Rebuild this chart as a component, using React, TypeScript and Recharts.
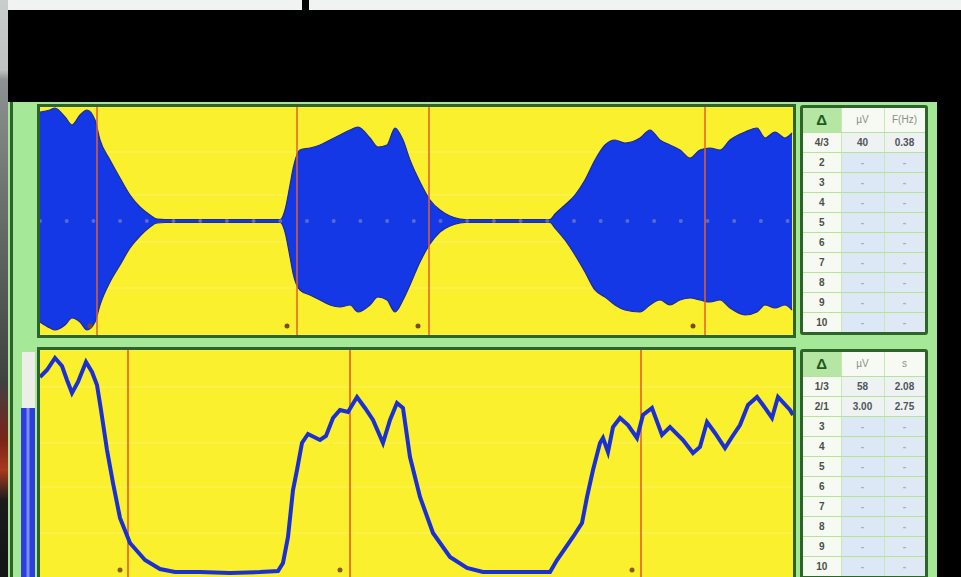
import {
  Area,
  CartesianGrid,
  ComposedChart,
  Line,
  ReferenceDot,
  ReferenceLine,
  XAxis,
  YAxis,
} from 'recharts'

// raw EMG trace: sample index vs envelope (µV)
const topTime = [
  0, 10, 15, 25, 32, 40, 47, 55, 60, 70, 80, 90, 100, 110, 117, 125, 240, 242, 245, 250, 253, 260,
  270, 280, 290, 300, 310, 318, 330, 338, 347, 355, 363, 370, 380, 390, 400, 410, 420, 425, 510, 515,
  525, 535, 545, 555, 565, 575, 585, 600, 610, 620, 630, 640, 650, 660, 670, 680, 690, 705, 717, 725,
  735, 745, 752,
]
const topUpper = [
  109, 111, 113, 104, 96, 106, 111, 101, 81, 61, 43, 26, 14, 6, 2, 1.5, 1.5, 3, 11, 36, 52, 71, 73, 76,
  81, 86, 91, 94, 83, 74, 76, 93, 81, 61, 39, 21, 11, 5, 2, 1.5, 1.5, 7, 16, 26, 41, 61, 76, 81, 78, 83,
  91, 81, 76, 71, 63, 71, 73, 71, 81, 89, 93, 83, 89, 83, 88,
]
const topLower = [
  -101, -107, -109, -104, -97, -101, -109, -101, -84, -61, -44, -27, -15, -6, -2, -1.5, -1.5, -3, -11,
  -36, -52, -69, -74, -79, -84, -86, -84, -91, -84, -76, -79, -91, -79, -64, -41, -23, -11, -5, -2,
  -1.5, -1.5, -7, -19, -34, -51, -69, -76, -84, -89, -91, -84, -79, -84, -79, -77, -79, -81, -79, -87,
  -94, -91, -84, -87, -84, -89,
]
const topGridTicks = [69, 26, -21, -67]
const topCursors = [57, 257, 389, 665]
const topMarks = [50, 247, 378, 653]

// rectified / smoothed trace
const lowTime = [
  0, 7, 15, 22, 27, 32, 38, 46, 52, 57, 61, 67, 73, 80, 90, 105, 120, 135, 160, 190, 220, 238, 243,
  248, 253, 257, 262, 268, 274, 280, 286, 293, 300, 308, 317, 325, 333, 343, 350, 357, 363, 370, 380,
  393, 410, 427, 443, 480, 510, 517, 533, 542, 547, 553, 560, 563, 568, 573, 580, 588, 597, 603, 612,
  622, 630, 643, 653, 660, 667, 675, 685, 692, 700, 708, 717, 723, 732, 738, 750, 753,
]
const lowValue = [
  198, 205, 217, 209, 195, 182, 193, 213, 203, 190, 165, 125, 92, 57, 32, 15, 6, 3, 3, 2, 3, 4, 12, 38,
  85, 105, 132, 141, 138, 135, 139, 157, 165, 163, 178, 167, 155, 132, 155, 172, 167, 118, 78, 42, 18,
  7, 3, 3, 3, 15, 38, 52, 78, 105, 132, 137, 123, 148, 157, 150, 137, 160, 167, 140, 148, 135, 122, 128,
  153, 142, 127, 138, 150, 170, 178, 170, 157, 178, 165, 160,
]
const lowGridTicks = [188, 132, 88, 42]
const lowCursors = [88, 310, 601]
const lowMarks = [80, 300, 592]

// cursor tables
const topHeader = ['Δ', 'µV', 'F(Hz)']
const topMeasured = [['4/3', '40', '0.38']]
const lowHeader = ['Δ', 'µV', 's']
const lowMeasured = [
  ['1/3', '58', '2.08'],
  ['2/1', '3.00', '2.75'],
]
const rowLabels = ['1', '2', '3', '4', '5', '6', '7', '8', '9', '10']

const topData = topTime.map((t, i) => ({ t, band: [topLower[i], topUpper[i]] }))
const lowData = lowTime.map((t, i) => ({ t, value: lowValue[i] }))

const YELLOW = '#fbf02e'
const LIGHT_GREEN = '#a4e898'
const DARK_GREEN = '#2d6429'
const CURSOR = '#e2602a'

function CursorTable({ header, measured, top }: { header: string[]; measured: string[][]; top: number }) {
  const rows = [
    ...measured,
    ...rowLabels.slice(measured.length).map((r) => [r, '-', '-']),
  ]
  const cell: React.CSSProperties = {
    borderRight: '1px solid #c6e9b6',
    borderBottom: '1px solid #b6e39c',
    textAlign: 'center',
    padding: 0,
  }
  return (
    <div
      style={{
        position: 'absolute',
        left: 800,
        top,
        width: 122,
        height: 224,
        border: `3px solid ${DARK_GREEN}`,
        borderRadius: 3,
        background: '#f6faf2',
        overflow: 'hidden',
      }}
    >
      <table
        style={{
          borderCollapse: 'collapse',
          width: '100%',
          tableLayout: 'fixed',
          fontFamily: '"Liberation Sans", Arial, sans-serif',
          fontSize: 10,
          fontWeight: 'bold',
        }}
      >
        <colgroup>
          <col style={{ width: 38 }} />
          <col style={{ width: 43 }} />
          <col style={{ width: 41 }} />
        </colgroup>
        <tbody>
          <tr style={{ height: 24 }}>
            <td style={{ ...cell, background: '#b5e6a3', color: '#1f5a1c', fontSize: 15 }}>{header[0]}</td>
            <td style={{ ...cell, color: '#8a8f88', fontWeight: 'normal' }}>{header[1]}</td>
            <td style={{ ...cell, color: '#8a8f88', fontWeight: 'normal' }}>{header[2]}</td>
          </tr>
          {rows.map((row, i) => {
            const done = i < measured.length
            return (
              <tr key={row[0]} style={{ height: 20 }}>
                <td style={{ ...cell, color: '#4a4f4a' }}>{row[0]}</td>
                <td style={{ ...cell, color: done ? '#50555a' : '#a3aab8', background: done ? '#eef2f2' : '#dce8f6' }}>
                  {row[1]}
                </td>
                <td style={{ ...cell, color: done ? '#50555a' : '#a3aab8', background: done ? '#eef2f2' : '#dfe9f6' }}>
                  {row[2]}
                </td>
              </tr>
            )
          })}
        </tbody>
      </table>
    </div>
  )
}

function PlotFrame({ top, height, children }: { top: number; height: number; children: React.ReactNode }) {
  return (
    <div
      style={{
        position: 'absolute',
        left: 37,
        top,
        width: 753,
        height,
        border: `3px solid ${DARK_GREEN}`,
        background: YELLOW,
        overflow: 'hidden',
      }}
    >
      {children}
    </div>
  )
}

export default function App() {
  return (
    <div
      style={{
        position: 'fixed',
        left: 0,
        top: 0,
        width: 961,
        height: 577,
        overflow: 'hidden',
        background: '#000',
      }}
    >
      {/* photo surroundings */}
      <div style={{ position: 'absolute', left: 7, top: 0, width: 954, height: 10, background: '#f1f2f2' }} />
      <div style={{ position: 'absolute', left: 302, top: 0, width: 7, height: 11, background: '#050505' }} />
      <div
        style={{
          position: 'absolute',
          left: 0,
          top: 0,
          width: 8,
          height: 577,
          background:
            'linear-gradient(#c9cdcc 0px, #bfc3c2 70px, #8d9191 80px, #6b7070 200px, #3e4243 380px, #7a2418 440px, #a83a1e 470px, #1c1c1c 500px, #141414 577px)',
        }}
      />
      {/* instrument window */}
      <div style={{ position: 'absolute', left: 8, top: 102, width: 929, height: 475, background: LIGHT_GREEN }} />
      <div style={{ position: 'absolute', left: 10, top: 102, width: 3, height: 475, background: DARK_GREEN }} />
      <div style={{ position: 'absolute', left: 22, top: 352, width: 13, height: 56, background: '#eeeee8' }} />
      <div
        style={{
          position: 'absolute',
          left: 21,
          top: 408,
          width: 14,
          height: 169,
          background: 'linear-gradient(90deg, #2c3fd8 0px, #2c3fd8 5px, #7c8cf2 6px, #7c8cf2 8px, #2c3fd8 9px)',
        }}
      />

      <PlotFrame top={104} height={228}>
        <ComposedChart width={753} height={228} data={topData} margin={{ top: 0, right: 0, bottom: 0, left: 0 }}>
          <CartesianGrid vertical={false} stroke="#fdf47a" strokeOpacity={0.7} strokeWidth={1} />
          <XAxis type="number" dataKey="t" domain={[0, 753]} hide />
          <YAxis type="number" domain={[-114, 114]} ticks={topGridTicks} hide />
          <Area
            dataKey="band"
            type="monotone"
            fill="#1538e6"
            fillOpacity={1}
            stroke="#1d2a98"
            strokeWidth={1.2}
            isAnimationActive={false}
          />
          <ReferenceLine
            y={0}
            stroke="#8a8fb0"
            strokeOpacity={0.6}
            strokeWidth={4}
            strokeDasharray="0 26.7"
            strokeLinecap="round"
          />
          {topCursors.map((x) => (
            <ReferenceLine key={x} x={x} stroke={CURSOR} strokeWidth={2} strokeOpacity={0.75} />
          ))}
          {topMarks.map((x) => (
            <ReferenceDot key={x} x={x} y={-105} r={2.5} fill="#7a4a1e" stroke="none" />
          ))}
        </ComposedChart>
      </PlotFrame>

      <PlotFrame top={347} height={235}>
        <ComposedChart width={753} height={235} data={lowData} margin={{ top: 0, right: 0, bottom: 0, left: 0 }}>
          <CartesianGrid vertical={false} stroke="#fdf47a" strokeOpacity={0.7} strokeWidth={1} />
          <XAxis type="number" dataKey="t" domain={[0, 753]} hide />
          <YAxis type="number" domain={[-10, 225]} ticks={lowGridTicks} hide />
          {lowCursors.map((x) => (
            <ReferenceLine key={x} x={x} stroke={CURSOR} strokeWidth={2} strokeOpacity={0.8} />
          ))}
          <Line
            dataKey="value"
            type="linear"
            stroke="#1b30d2"
            strokeWidth={4}
            dot={false}
            isAnimationActive={false}
          />
          {lowMarks.map((x) => (
            <ReferenceDot key={x} x={x} y={5} r={2.5} fill="#8a5a1e" stroke="none" />
          ))}
        </ComposedChart>
      </PlotFrame>

      <CursorTable header={topHeader} measured={topMeasured} top={105} />
      <CursorTable header={lowHeader} measured={lowMeasured} top={349} />
    </div>
  )
}
